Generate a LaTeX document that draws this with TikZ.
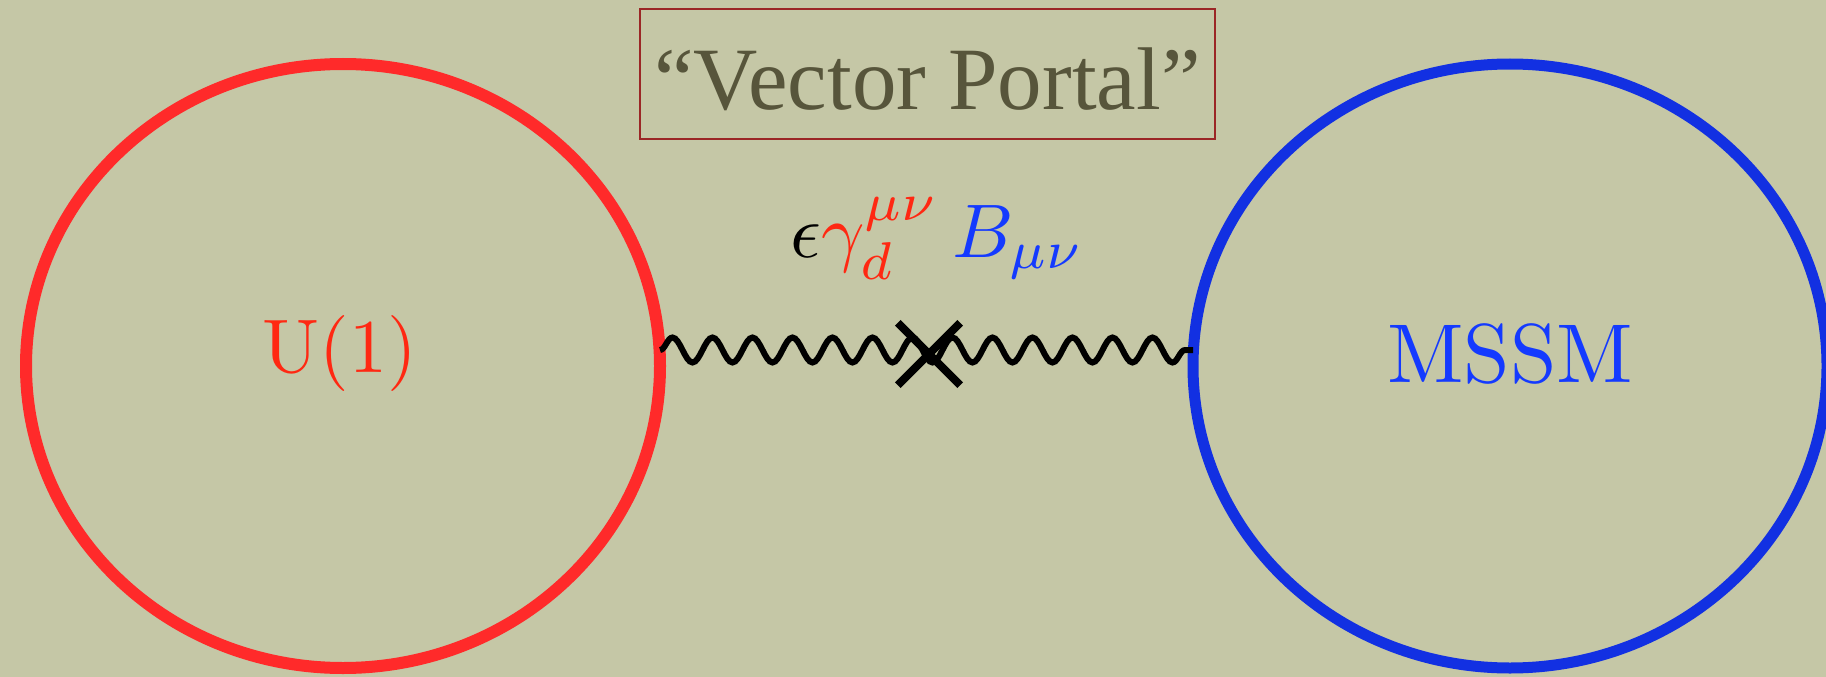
\RequirePackage{fix-cm}
\documentclass[tikz,border=0pt]{standalone}
\usepackage{fontspec}
\newfontfamily\titlefont{Liberation Serif}
\usetikzlibrary{shapes.geometric,decorations.pathmorphing}
\definecolor{bg}{RGB}{197,199,166}
\definecolor{ured}{RGB}{255,42,42}
\definecolor{utext}{RGB}{255,40,18}
\definecolor{mblue}{RGB}{18,48,226}
\definecolor{mtext}{RGB}{20,58,255}
\definecolor{olive}{RGB}{87,85,59}
\definecolor{boxred}{RGB}{155,38,38}
\tikzset{
  sector/.style={ellipse, inner sep=0pt, outer sep=0pt, minimum width=634pt, minimum height=604pt},
  biglabel/.style={inner sep=0pt, anchor=base},
  photon/.style={line width=6pt, black, decorate, decoration={snake, amplitude=12.5pt, segment length=40pt}},
  crossline/.style={line width=8pt, black},
  titlebox/.style={draw=boxred, line width=2.5pt, minimum width=575pt, minimum height=130pt, inner sep=0pt,
     text height=70pt, text depth=0pt, font=\titlefont\fontsize{89}{92}\selectfont, text=olive}
}
\begin{document}
\begin{tikzpicture}[x=1pt,y=-1pt]
\fill[bg] (0,0) rectangle (1826,677);
\useasboundingbox (0,0) rectangle (1826,677);
% sectors
\node[sector, draw=ured, line width=12pt] (u1) at (343,366) {};
\node[sector, draw=mblue, line width=11pt] (mssm) at (1510,366) {};
\node[biglabel, text=utext] (u1label) at (340,372) {\scalebox{7.6}{U(1)}};
\node[biglabel, text=mtext] (mssmlabel) at (1510,382) {\scalebox{8.35}{MSSM}};
% title
\node[titlebox] (title) at (927.5,74) {“Vector Portal”};
% wave
\coordinate (wl) at ([yshift=16pt]u1.east);
\coordinate (wr) at ([yshift=16pt]mssm.west);
\draw[photon] (wl) -- (wr);
% cross
\node[minimum size=62pt, inner sep=0pt] (x) at (929,354) {};
\draw[crossline] (x.north west) -- (x.south east);
\draw[crossline] (x.north east) -- (x.south west);
% formula
\node[inner sep=0pt, anchor=base west] (op) at (790,257)
  {\scalebox{7.6}{$\epsilon\textcolor{utext}{\gamma_d^{\mu\nu}}\,\textcolor{mtext}{B_{\mu\nu}}$}};
\end{tikzpicture}
\end{document}
